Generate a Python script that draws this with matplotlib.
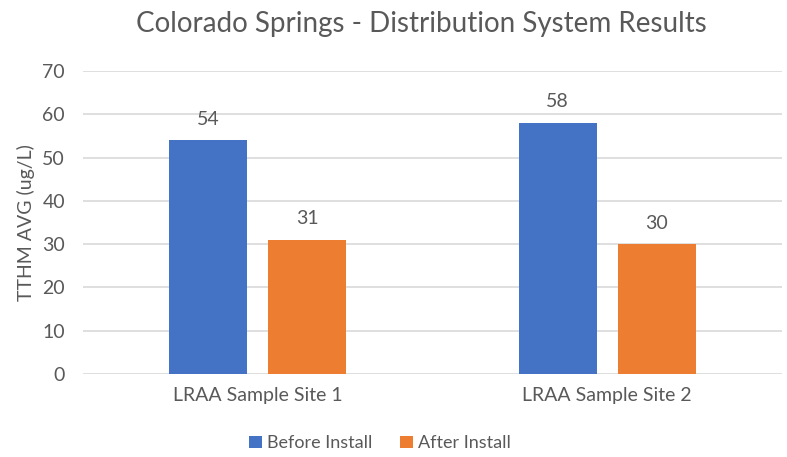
import matplotlib
matplotlib.use("Agg")
import matplotlib.pyplot as plt
import numpy as np

sites = ["LRAA Sample Site 1", "LRAA Sample Site 2"]
before_install = [54, 58]
after_install = [31, 30]
y_ticks = [0, 10, 20, 30, 40, 50, 60, 70]

BLUE = "#4472C4"
ORANGE = "#ED7D31"
TEXT = "#595959"
GRID = "#D9D9D9"

plt.rcParams["font.family"] = ["Lato", "DejaVu Sans"]

fig = plt.figure(figsize=(7.87, 4.57), dpi=100)
ax = fig.add_axes([0.1055, 0.1816, 0.888, 0.663])

x = np.arange(len(sites))
width = 0.223
offset = 0.142

b1 = ax.bar(x - offset, before_install, width, color=BLUE, label="Before Install", zorder=3)
b2 = ax.bar(x + offset, after_install, width, color=ORANGE, label="After Install", zorder=3)

for bars in (b1, b2):
    for rect in bars:
        ax.annotate(f"{rect.get_height():.0f}",
                    (rect.get_x() + rect.get_width() / 2, rect.get_height()),
                    xytext=(0, 9), textcoords="offset points",
                    ha="center", va="bottom", fontsize=14, color=TEXT)

ax.set_xlim(-0.5, 1.5)
ax.set_ylim(0, 70)
ax.set_yticks(y_ticks)
ax.set_xticks(x)
ax.set_xticklabels(sites)
ax.tick_params(axis="both", length=0, labelsize=14, colors=TEXT)
ax.tick_params(axis="y", pad=13)
ax.tick_params(axis="x", pad=9)
ax.yaxis.grid(True, color=GRID, linewidth=1.2, zorder=0)
for s in ax.spines.values():
    s.set_visible(False)

ax.set_ylabel("TTHM AVG (ug/L)", fontsize=14, color=TEXT, labelpad=5)
fig.suptitle("Colorado Springs - Distribution System Results", fontsize=20,
             color=TEXT, y=0.975, va="top", x=0.535)

fig.legend(handles=[b1, b2], loc="center", bbox_to_anchor=(0.483, 0.03),
           ncol=2, frameon=False, fontsize=13, labelcolor=TEXT,
           handlelength=0.7, handleheight=0.7, handletextpad=0.3, columnspacing=1.5)

fig.savefig("out.png", dpi=100)
